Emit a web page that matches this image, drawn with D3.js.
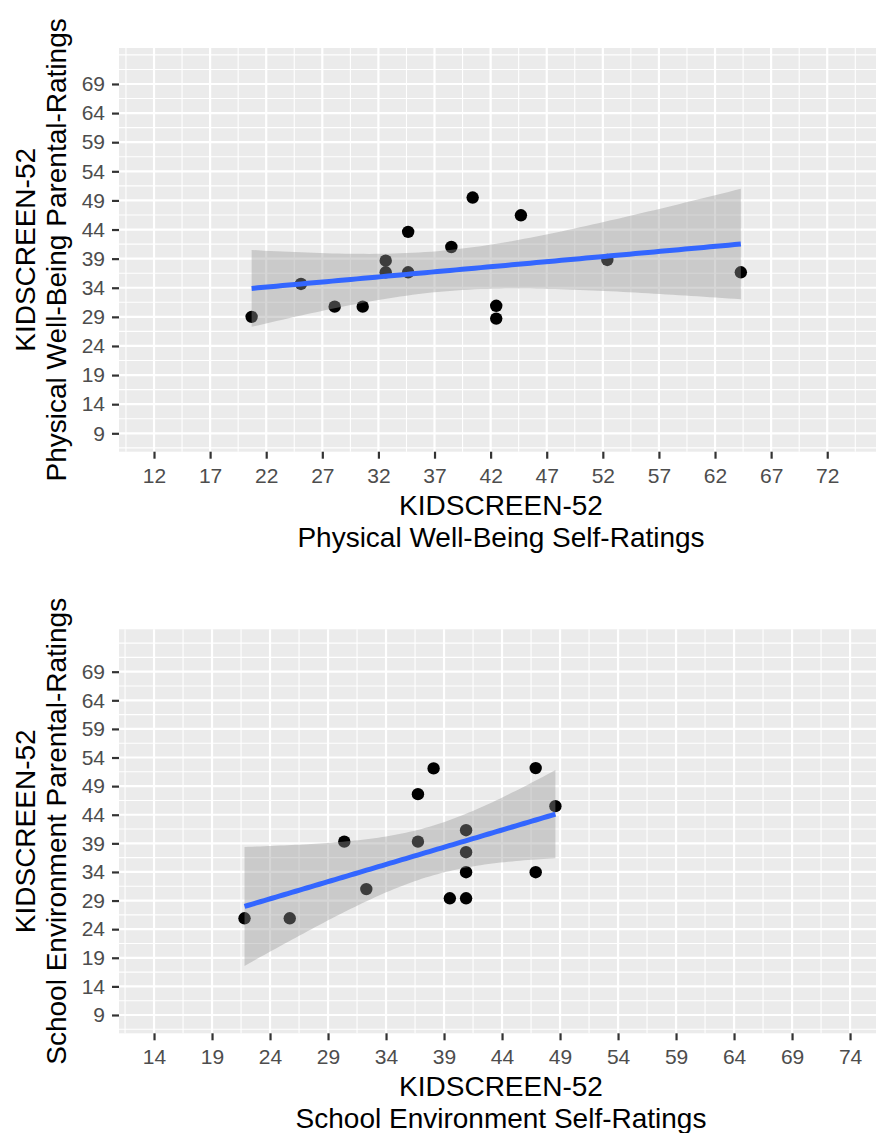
<!DOCTYPE html>
<html>
<head>
<meta charset="utf-8">
<script src="https://cdn.jsdelivr.net/npm/d3@7"></script>
<style>
  body { margin: 0; background: #fff; }
  text { font-family: "Liberation Sans", Arial, sans-serif; }
</style>
</head>
<body>
<svg width="876" height="1133"></svg>
<script>
// top chart: physical well-being
var physSelf   = [20.7, 25.1, 28.1, 30.6, 32.65, 32.65, 34.65, 34.65, 38.5, 40.4, 42.5, 42.5, 44.7, 52.4, 64.3];
var physParent = [29.0, 34.65, 30.75, 30.75, 38.65, 36.65, 43.6, 36.65, 41.0, 49.5, 30.9, 28.7, 46.45, 38.77, 36.65];
var physXTicks = [12, 17, 22, 27, 32, 37, 42, 47, 52, 57, 62, 67, 72];

// bottom chart: school environment
var schoolSelf   = [21.8, 25.7, 30.4, 32.3, 36.75, 36.75, 38.1, 39.5, 40.9, 40.9, 40.9, 40.9, 46.9, 46.9, 48.6];
var schoolParent = [25.9, 25.9, 39.3, 31.0, 47.6, 39.3, 52.1, 29.4, 29.4, 33.95, 37.45, 41.3, 52.15, 33.95, 45.5];
var schoolXTicks = [14, 19, 24, 29, 34, 39, 44, 49, 54, 59, 64, 69, 74];

var yTicks = [9, 14, 19, 24, 29, 34, 39, 44, 49, 54, 59, 64, 69];

var svg = d3.select("svg");
var panelLeft = 119, panelRight = 883;
var tCrit = 2.160; // t(0.975, df = 13)

function fitLm(xs, ys) {
    var n = xs.length,
        mx = d3.mean(xs), my = d3.mean(ys),
        sxx = d3.sum(xs, function(v) { return (v - mx) * (v - mx); }),
        sxy = d3.sum(xs, function(v, i) { return (v - mx) * (ys[i] - my); }),
        b = sxy / sxx, a = my - b * mx,
        rss = d3.sum(xs, function(v, i) { var r = ys[i] - (a + b * v); return r * r; }),
        s = Math.sqrt(rss / (n - 2));
    return {a: a, b: b, s: s, n: n, mx: mx, sxx: sxx};
}

function drawPanel(p) {
    var x = d3.scaleLinear().domain(p.xDom).range([panelLeft, panelRight]),
        y = d3.scaleLinear().domain(p.yDom).range([p.bottom, p.top]);

    var g = svg.append("g");

    g.append("rect")
        .attr("x", panelLeft).attr("y", p.top)
        .attr("width", panelRight - panelLeft).attr("height", p.bottom - p.top)
        .attr("fill", "#ebebeb");

    // minor grid (half way between breaks)
    var xMinor = d3.range(p.xTicks[0] - 2.5, p.xTicks[p.xTicks.length - 1] + 5.1, 5)
        .filter(function(v) { return v > p.xDom[0] && v < p.xDom[1]; });
    var yMinor = d3.range(yTicks[0] - 2.5, yTicks[yTicks.length - 1] + 5.1, 2.5)
        .filter(function(v) { return v > p.yDom[0] && v < p.yDom[1] && yTicks.indexOf(v) < 0; });

    g.selectAll(".xminor").data(xMinor).enter().append("line")
        .attr("x1", x).attr("x2", x).attr("y1", p.top).attr("y2", p.bottom)
        .attr("stroke", "#fff").attr("stroke-width", 1.1);
    g.selectAll(".yminor").data(yMinor).enter().append("line")
        .attr("x1", panelLeft).attr("x2", panelRight).attr("y1", y).attr("y2", y)
        .attr("stroke", "#fff").attr("stroke-width", 1.1);

    g.selectAll(".xmajor").data(p.xTicks).enter().append("line")
        .attr("x1", x).attr("x2", x).attr("y1", p.top).attr("y2", p.bottom)
        .attr("stroke", "#fff").attr("stroke-width", 2.2);
    g.selectAll(".ymajor").data(yTicks).enter().append("line")
        .attr("x1", panelLeft).attr("x2", panelRight).attr("y1", y).attr("y2", y)
        .attr("stroke", "#fff").attr("stroke-width", 2.2);

    // points
    g.selectAll(".pt").data(p.xs).enter().append("circle")
        .attr("cx", function(d) { return x(d); })
        .attr("cy", function(d, i) { return y(p.ys[i]); })
        .attr("r", 6.2)
        .attr("fill", "#000");

    // linear fit with 95% band
    var m = fitLm(p.xs, p.ys),
        lo = d3.min(p.xs), hi = d3.max(p.xs),
        grid = d3.range(80).map(function(i) { return lo + (hi - lo) * i / 79; }),
        fit = grid.map(function(v) {
            var f = m.a + m.b * v,
                se = m.s * Math.sqrt(1 / m.n + (v - m.mx) * (v - m.mx) / m.sxx);
            return {x: v, y: f, lo: f - tCrit * se, hi: f + tCrit * se};
        });

    g.append("path").datum(fit)
        .attr("d", d3.area()
            .x(function(d) { return x(d.x); })
            .y0(function(d) { return y(d.lo); })
            .y1(function(d) { return y(d.hi); }))
        .attr("fill", "#999999").attr("fill-opacity", 0.4);

    g.append("path").datum(fit)
        .attr("d", d3.line()
            .x(function(d) { return x(d.x); })
            .y(function(d) { return y(d.y); }))
        .attr("fill", "none").attr("stroke", "#3366ff").attr("stroke-width", 5);

    // axes
    var xAxis = g.append("g")
        .attr("transform", "translate(0," + p.bottom + ")")
        .call(d3.axisBottom(x).tickValues(p.xTicks).tickSizeInner(7).tickSizeOuter(0).tickPadding(9));
    var yAxis = g.append("g")
        .attr("transform", "translate(" + panelLeft + ",0)")
        .call(d3.axisLeft(y).tickValues(yTicks).tickSizeInner(7).tickSizeOuter(0).tickPadding(7));

    [xAxis, yAxis].forEach(function(ax) {
        ax.select(".domain").remove();
        ax.selectAll(".tick line").attr("stroke", "#333").attr("stroke-width", 2.2);
        ax.selectAll(".tick text")
            .attr("fill", "#4d4d4d")
            .style("font-size", "21px")
            .style("font-family", "'Liberation Sans', Arial, sans-serif");
    });

    // axis titles
    var cx = (panelLeft + panelRight) / 2;
    g.append("text").attr("x", cx).attr("y", p.bottom + 63)
        .attr("text-anchor", "middle").style("font-size", "28px").text("KIDSCREEN-52");
    g.append("text").attr("x", cx).attr("y", p.bottom + 95)
        .attr("text-anchor", "middle").style("font-size", "28px").text(p.xTitle);

    var cy = (p.top + p.bottom) / 2;
    g.append("text").attr("transform", "translate(35," + cy + ") rotate(-90)")
        .attr("text-anchor", "middle").style("font-size", "28px").text("KIDSCREEN-52");
    g.append("text").attr("transform", "translate(66," + cy + ") rotate(-90)")
        .attr("text-anchor", "middle").style("font-size", "28px").text(p.yTitle);
}

drawPanel({
    xs: physSelf, ys: physParent, xTicks: physXTicks,
    xDom: [8.88, 76.97], yDom: [5.84, 75.18],
    top: 48, bottom: 451.7,
    xTitle: "Physical Well-Being Self-Ratings",
    yTitle: "Physical Well-Being Parental-Ratings"
});

drawPanel({
    xs: schoolSelf, ys: schoolParent, xTicks: schoolXTicks,
    xDom: [10.98, 76.84], yDom: [5.80, 76.41],
    top: 629.3, bottom: 1033.3,
    xTitle: "School Environment Self-Ratings",
    yTitle: "School Environment Parental-Ratings"
});
</script>
</body>
</html>
